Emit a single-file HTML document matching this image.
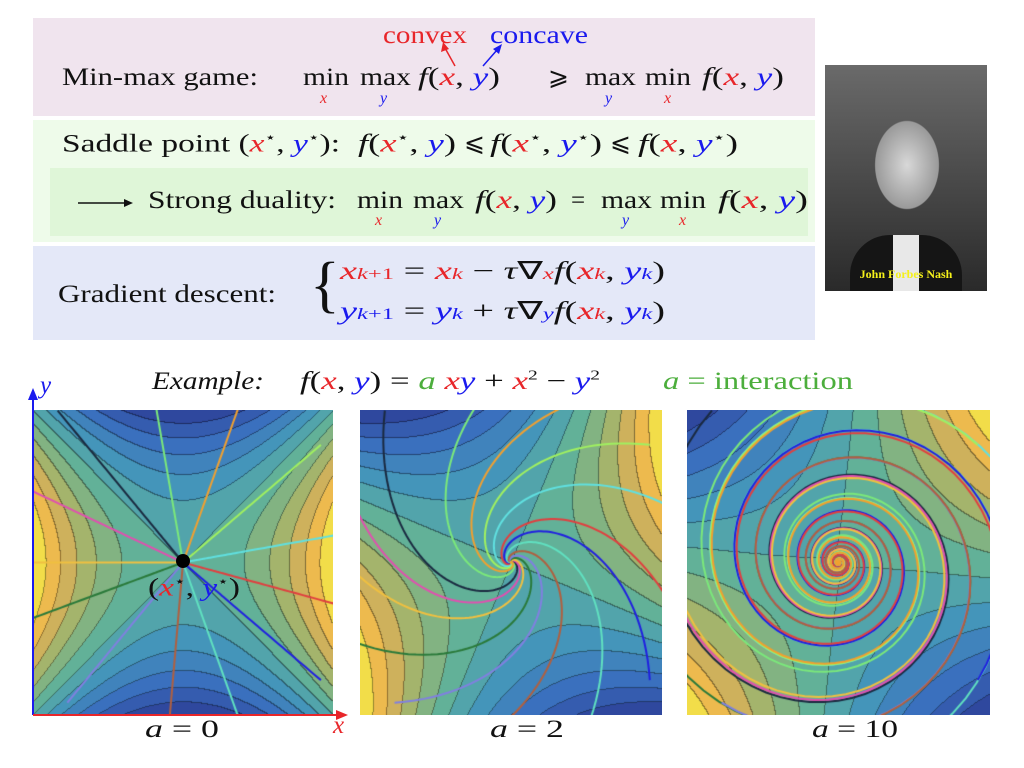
<!DOCTYPE html>
<html><head><meta charset="utf-8">
<style>
body{margin:0;width:1024px;height:768px;background:#fff;position:relative;overflow:hidden;font-family:"Liberation Serif",serif;color:#111}
.a{position:absolute;white-space:nowrap}
.t{font-size:25px;transform-origin:0 0}
.i{font-style:italic}
.r{color:#e8262a}.b{color:#1a1aee}.g{color:#4cae3c}
.sub{font-size:16px;font-style:italic;position:absolute}
.s{font-size:16px}
sup{font-size:14px}
canvas{position:absolute}
</style></head><body>
<div class="a" style="left:33px;top:18px;width:782px;height:98px;background:#f0e4ee"></div>
<div class="a" style="left:33px;top:120px;width:782px;height:122px;background:#eefbea"></div>
<div class="a" style="left:50px;top:168px;width:758px;height:68px;background:#dff6d8"></div>
<div class="a" style="left:33px;top:246px;width:782px;height:94px;background:#e4e8f8"></div>

<div class="a t r" data-w="84" style="left:383px;top:22px">convex</div>
<div class="a t b" data-w="98" style="left:490px;top:22px">concave</div>
<svg class="a" style="left:0;top:0" width="1024" height="120">
<line x1="455" y1="66" x2="445" y2="48" stroke="#e8262a" stroke-width="1.5"/><polygon points="443,42 441,52 449,49" fill="#e8262a"/>
<line x1="483" y1="66" x2="497" y2="50" stroke="#1a1aee" stroke-width="1.5"/><polygon points="502,44 493,49 499,54" fill="#1a1aee"/>
</svg>
<div class="a t" data-w="196" style="left:62px;top:64px">Min-max game:</div>
<div class="a t" data-w="46" style="left:303px;top:64px">min</div>
<div class="a t" data-w="51" style="left:360px;top:64px">max</div>
<div class="a t" data-w="82" style="left:418px;top:64px"><span class="i">f</span>(<span class="i r">x</span>, <span class="i b">y</span>)</div>
<div class="a t" style="left:548px;top:62px">⩾</div>
<div class="a t" data-w="51" style="left:585px;top:64px">max</div>
<div class="a t" data-w="46" style="left:645px;top:64px">min</div>
<div class="a t" data-w="82" style="left:702px;top:64px"><span class="i">f</span>(<span class="i r">x</span>, <span class="i b">y</span>)</div>
<span class="sub r" style="left:320px;top:90px">x</span><span class="sub b" style="left:380px;top:90px">y</span>
<span class="sub b" style="left:605px;top:90px">y</span><span class="sub r" style="left:664px;top:90px">x</span>

<div class="a t" data-w="278" style="left:62px;top:130px">Saddle point (<span class="i r">x</span><sup>⋆</sup>, <span class="i b">y</span><sup>⋆</sup>):</div>
<div class="a t" data-w="98" style="left:358px;top:130px"><span class="i">f</span>(<span class="i r">x</span><sup>⋆</sup>, <span class="i b">y</span>)</div>
<div class="a t" style="left:464px;top:128px">⩽</div>
<div class="a t" data-w="112" style="left:490px;top:130px"><span class="i">f</span>(<span class="i r">x</span><sup>⋆</sup>, <span class="i b">y</span><sup>⋆</sup>)</div>
<div class="a t" style="left:610px;top:128px">⩽</div>
<div class="a t" data-w="100" style="left:638px;top:130px"><span class="i">f</span>(<span class="i r">x</span>, <span class="i b">y</span><sup>⋆</sup>)</div>

<svg class="a" style="left:76px;top:196px" width="60" height="14"><line x1="2" y1="7" x2="50" y2="7" stroke="#111" stroke-width="1.5"/><polygon points="57,7 48,3 48,11" fill="#111"/></svg>
<div class="a t" data-w="188" style="left:148px;top:187px">Strong duality:</div>
<div class="a t" data-w="46" style="left:357px;top:187px">min</div>
<div class="a t" data-w="51" style="left:413px;top:187px">max</div>
<div class="a t" data-w="82" style="left:475px;top:187px"><span class="i">f</span>(<span class="i r">x</span>, <span class="i b">y</span>)</div>
<div class="a t" style="left:571px;top:187px">=</div>
<div class="a t" data-w="51" style="left:601px;top:187px">max</div>
<div class="a t" data-w="46" style="left:660px;top:187px">min</div>
<div class="a t" data-w="90" style="left:718px;top:187px"><span class="i">f</span>(<span class="i r">x</span>, <span class="i b">y</span>)</div>
<span class="sub r" style="left:375px;top:212px">x</span><span class="sub b" style="left:434px;top:212px">y</span>
<span class="sub b" style="left:622px;top:212px">y</span><span class="sub r" style="left:679px;top:212px">x</span>

<div class="a t" data-w="218" style="left:58px;top:281px">Gradient descent:</div>
<div class="a" style="left:310px;top:250px;font-size:62px;line-height:70px">{</div>
<div class="a t" data-w="325" style="left:340px;top:256px"><span class="i r">x</span><span class="r s"><i>k</i>+1</span> = <span class="i r">x</span><span class="r i s">k</span> − <span class="i">τ</span>∇<span class="r i s">x</span><span class="i">f</span>(<span class="i r">x</span><span class="r i s">k</span>, <span class="i b">y</span><span class="b i s">k</span>)</div>
<div class="a t" data-w="325" style="left:340px;top:296px"><span class="i b">y</span><span class="b s"><i>k</i>+1</span> = <span class="i b">y</span><span class="b i s">k</span> + <span class="i">τ</span>∇<span class="b i s">y</span><span class="i">f</span>(<span class="i r">x</span><span class="r i s">k</span>, <span class="i b">y</span><span class="b i s">k</span>)</div>

<div class="a" style="left:825px;top:65px;width:162px;height:226px;background:radial-gradient(ellipse 45px 62px at 82px 100px,#d8d8d8,#9a9a9a 70%,transparent 72%),linear-gradient(#6a6a6a,#2a2a2a)">
<div style="position:absolute;left:25px;top:170px;width:112px;height:56px;background:#151515;border-radius:40px 40px 0 0"></div>
<div style="position:absolute;left:68px;top:170px;width:26px;height:56px;background:#e8e8e8"></div>
<div style="position:absolute;left:0;top:202px;width:162px;text-align:center;color:#f5f01a;font-size:12px;font-weight:bold">John Forbes Nash</div>
</div>

<div class="a t i" data-w="112" style="left:152px;top:368px">Example:</div>
<div class="a t" data-w="300" style="left:300px;top:368px"><span class="i">f</span>(<span class="i r">x</span>, <span class="i b">y</span>) = <span class="i g">a</span> <span class="i r">x</span><span class="i b">y</span> + <span class="i r">x</span><sup>2</sup> − <span class="i b">y</span><sup>2</sup></div>
<div class="a t g" data-w="190" style="left:663px;top:368px"><span class="i">a</span> = interaction</div>

<canvas id="c0" width="300" height="305" style="left:33px;top:410px"></canvas>
<canvas id="c1" width="302" height="305" style="left:360px;top:410px"></canvas>
<canvas id="c2" width="303" height="305" style="left:687px;top:410px"></canvas>

<svg class="a" style="left:0;top:370px" width="360" height="370">
<line x1="33" y1="345" x2="33" y2="28" stroke="#1a1aee" stroke-width="2"/><polygon points="33,18 28,30 38,30" fill="#1a1aee"/>
<line x1="33" y1="345" x2="338" y2="345" stroke="#e8262a" stroke-width="2"/><polygon points="348,345 336,340 336,350" fill="#e8262a"/>
<circle cx="183" cy="191" r="7" fill="#000"/>
</svg>
<div class="a t i b" style="left:40px;top:372px">y</div>
<div class="a t i r" style="left:333px;top:712px">x</div>
<div class="a t" data-w="92" style="left:148px;top:574px">(<span class="i r">x</span><sup>⋆</sup>, <span class="i b">y</span><sup>⋆</sup>)</div>
<div class="a t" data-w="74" style="left:145px;top:716px"><span class="i">a</span> = 0</div>
<div class="a t" data-w="74" style="left:490px;top:716px"><span class="i">a</span> = 2</div>
<div class="a t" data-w="86" style="left:812px;top:716px"><span class="i">a</span> = 10</div>

<script>
document.querySelectorAll('[data-w]').forEach(el=>{const w=el.getBoundingClientRect().width;const tw=+el.getAttribute('data-w');if(w>0)el.style.transform='scaleX('+(tw/w)+')';});
const aValues=[0,2,10];
const tauValues=[0.02,0.02,0.01];
const startAngles=[100,130,155,180,200,230,265,290,320,345,10,40,70];
const startRadius=[1.1,1.3,1.2,1.1,1.3,1.2,1.1,1.3,1.2,1.1,1.3,1.2,1.1];
const trajColors=["#7be87b","#1a2a40","#e050b0","#f0c040","#2a7a3a","#8080e0","#b06040","#60e0c0","#2020e0","#e04040","#60e0e0","#a0f060","#f0a030"];
const steps=600;
const stops=[[0,[44,62,150]],[0.2,[58,110,190]],[0.4,[70,155,185]],[0.55,[100,178,150]],[0.7,[160,180,110]],[0.85,[235,175,80]],[1,[245,238,70]]];
function cmap(t){for(let k=1;k<stops.length;k++){if(t<=stops[k][0]){const[a0,c0]=stops[k-1],[a1,c1]=stops[k];const u=(t-a0)/(a1-a0);return c0.map((v,j)=>v+(c1[j]-v)*u);}}return stops[stops.length-1][1];}
aValues.forEach((a,p)=>{
  const cv=document.getElementById('c'+p),ctx=cv.getContext('2d'),W=cv.width,H=cv.height;
  const sx=x=>(x+1)/2*W, sy=y=>(1-y)/2*H;
  const f=(x,y)=>a*x*y+x*x-y*y;
  let mn=1e9,mx=-1e9;const vals=new Float32Array(W*H);
  for(let j=0;j<H;j++)for(let i=0;i<W;i++){const v=f(i/W*2-1,1-j/H*2);vals[j*W+i]=v;if(v<mn)mn=v;if(v>mx)mx=v;}
  const N=12,band=new Int16Array(W*H);
  for(let k=0;k<W*H;k++)band[k]=Math.min(N-1,Math.floor((vals[k]-mn)/(mx-mn)*N));
  const img=ctx.createImageData(W,H);
  for(let j=0;j<H;j++)for(let i=0;i<W;i++){const k=j*W+i;let c=cmap((band[k]+0.5)/N);
    const e=(i<W-1&&band[k+1]!==band[k])||(j<H-1&&band[k+W]!==band[k]);
    if(e)c=c.map(v=>v*0.6);
    img.data[k*4]=c[0];img.data[k*4+1]=c[1];img.data[k*4+2]=c[2];img.data[k*4+3]=255;}
  ctx.putImageData(img,0,0);
  ctx.lineWidth=2;
  const tau=tauValues[p];
  startAngles.forEach((ang,s)=>{
    let x=startRadius[s]*Math.cos(ang*Math.PI/180),y=startRadius[s]*Math.sin(ang*Math.PI/180);
    ctx.strokeStyle=trajColors[s];ctx.beginPath();ctx.moveTo(sx(x),sy(y));
    for(let n=0;n<steps;n++){const gx=a*y+2*x,gy=a*x-2*y;x=x-tau*gx;y=y+tau*gy;ctx.lineTo(sx(x),sy(y));}
    ctx.stroke();
  });
});
</script>
</body></html>
